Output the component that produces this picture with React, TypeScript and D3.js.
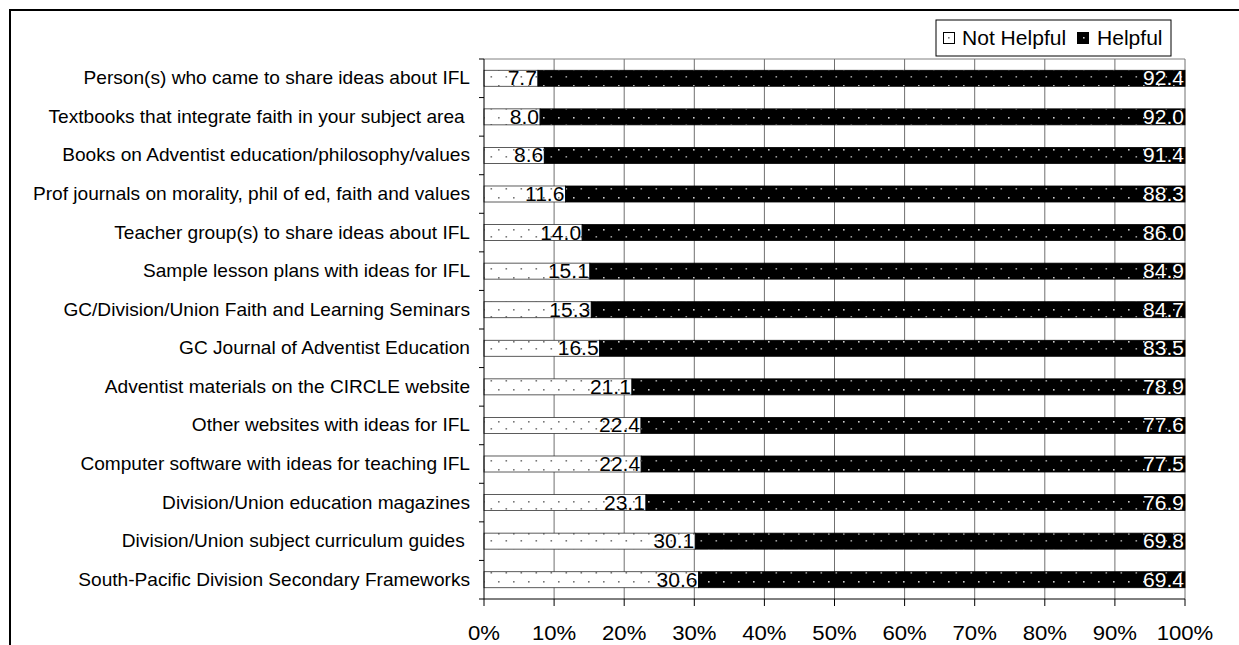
import * as d3 from "d3";

const categories = [
  "Person(s) who came to share ideas about IFL",
  "Textbooks that integrate faith in your subject area ",
  "Books on Adventist education/philosophy/values",
  "Prof journals on morality, phil of ed, faith and values",
  "Teacher group(s) to share ideas about IFL",
  "Sample lesson plans with ideas for IFL",
  "GC/Division/Union Faith and Learning Seminars",
  "GC Journal of Adventist Education",
  "Adventist materials on the CIRCLE website",
  "Other websites with ideas for IFL",
  "Computer software with ideas for teaching IFL",
  "Division/Union education magazines",
  "Division/Union subject curriculum guides ",
  "South-Pacific Division Secondary Frameworks",
];
const notHelpful = [7.7, 8.0, 8.6, 11.6, 14.0, 15.1, 15.3, 16.5, 21.1, 22.4, 22.4, 23.1, 30.1, 30.6];
const helpful = [92.4, 92.0, 91.4, 88.3, 86.0, 84.9, 84.7, 83.5, 78.9, 77.6, 77.5, 76.9, 69.8, 69.4];
const seriesNames = ["Not Helpful", "Helpful"];
const xTicks = [0, 0.1, 0.2, 0.3, 0.4, 0.5, 0.6, 0.7, 0.8, 0.9, 1];

const W = 1239;
const H = 645;
const plot = { left: 484, right: 1185, top: 59, bottom: 599 };
const font = "'Liberation Sans', Arial, sans-serif";
const SX = 1.08; // text in the original is slightly stretched horizontally

export default function App() {
  const x = d3.scaleLinear().domain([0, 1]).range([plot.left, plot.right]);
  const y = d3
    .scaleBand<string>()
    .domain(categories)
    .range([plot.top, plot.bottom])
    .paddingInner(0.585)
    .paddingOuter(0.2925);
  const step = y.step();
  const bw = y.bandwidth();
  const fmt = d3.format(".1f");

  const rows = categories.map((c, i) => {
    const tot = notHelpful[i] + helpful[i];
    return { c, nh: notHelpful[i], h: helpful[i], split: notHelpful[i] / tot };
  });

  const stretched = (tx: number, ty: number) => `translate(${tx},${ty}) scale(${SX},1)`;

  return (
    <svg width={W} height={H} style={{ position: "absolute", left: 0, top: 0, background: "#fff" }}>
      <defs>
        <pattern id="pNot" width="15" height="16" patternUnits="userSpaceOnUse">
          <rect width="15" height="16" fill="#fff" />
          <rect x="3" y="5" width="1.6" height="1.6" fill="#777" />
          <rect x="10.5" y="12" width="1.6" height="1.6" fill="#777" />
        </pattern>
        <pattern id="pHelp" width="15" height="16" patternUnits="userSpaceOnUse">
          <rect width="15" height="16" fill="#000" />
          <rect x="3" y="5" width="1.6" height="1.6" fill="#ccc" />
          <rect x="10.5" y="12" width="1.6" height="1.6" fill="#999" />
        </pattern>
      </defs>

      {/* outer frame */}
      <path d={`M10,${H} V10 H${W}`} fill="none" stroke="#000" strokeWidth={2} />

      {/* plot area border + gridlines */}
      <line x1={plot.left} x2={plot.right} y1={plot.top} y2={plot.top} stroke="#808080" />
      {xTicks.slice(1).map((t) => (
        <line key={t} x1={x(t)} x2={x(t)} y1={plot.top} y2={plot.bottom} stroke="#707070" />
      ))}

      {/* bars */}
      {rows.map((r) => {
        const yy = y(r.c)!;
        const xs = x(r.split);
        return (
          <g key={r.c}>
            <rect x={x(0)} y={yy} width={xs - x(0)} height={bw} fill="url(#pNot)" stroke="#333" strokeWidth={0.8} />
            <rect x={xs} y={yy} width={x(1) - xs} height={bw} fill="url(#pHelp)" stroke="#000" strokeWidth={0.8} />
            <text
              transform={stretched(xs - 1, yy + bw / 2 + 7)}
              textAnchor="end"
              fontFamily={font}
              fontSize={19.5}
              fill="#000"
            >
              {fmt(r.nh)}
            </text>
            <text
              transform={stretched(x(1) - 1, yy + bw / 2 + 7)}
              textAnchor="end"
              fontFamily={font}
              fontSize={19.5}
              fill="#fff"
            >
              {fmt(r.h)}
            </text>
          </g>
        );
      })}

      {/* y axis */}
      <line x1={plot.left} x2={plot.left} y1={plot.top} y2={plot.bottom} stroke="#000" />
      {d3.range(categories.length + 1).map((i) => (
        <line key={i} x1={plot.left - 5} x2={plot.left} y1={plot.top + i * step} y2={plot.top + i * step} stroke="#000" />
      ))}
      {categories.map((c) => (
        <text
          key={c}
          transform={stretched(470, y(c)! + bw / 2 + 6)}
          textAnchor="end"
          fontFamily={font}
          fontSize={17.7}
          fill="#000"
          style={{ whiteSpace: "pre" }}
        >
          {c}
        </text>
      ))}

      {/* x axis */}
      <line x1={plot.left} x2={plot.right} y1={plot.bottom} y2={plot.bottom} stroke="#000" />
      {xTicks.map((t) => (
        <g key={t}>
          <line x1={x(t)} x2={x(t)} y1={plot.bottom} y2={plot.bottom + 7} stroke="#000" />
          <text transform={stretched(x(t), 640)} textAnchor="middle" fontFamily={font} fontSize={20.5} fill="#000">
            {d3.format(".0%")(t)}
          </text>
        </g>
      ))}

      {/* legend */}
      <g>
        <rect x={936} y={20} width={235} height={36} fill="#fff" stroke="#000" strokeWidth={1} />
        <rect x={943.5} y={32.5} width={11} height={11} fill="url(#pNot)" stroke="#000" />
        <text transform={stretched(962, 45)} fontFamily={font} fontSize={19.5} fill="#000">
          {seriesNames[0]}
        </text>
        <rect x={1077.5} y={32.5} width={11} height={11} fill="url(#pHelp)" stroke="#000" />
        <text transform={stretched(1097, 45)} fontFamily={font} fontSize={19.5} fill="#000">
          {seriesNames[1]}
        </text>
      </g>
    </svg>
  );
}
